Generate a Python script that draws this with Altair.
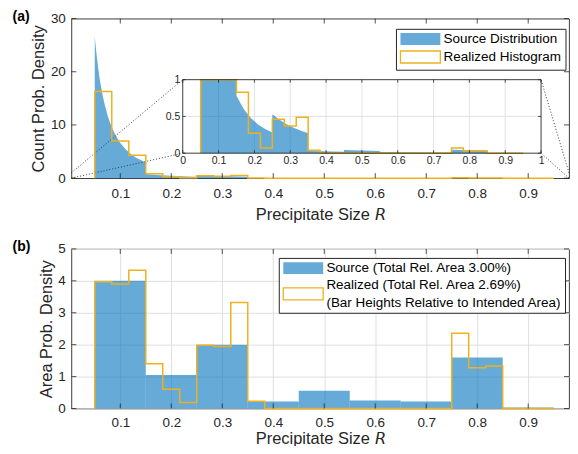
import altair as alt
import pandas as pd

# ---------------- values ----------------
# (a) source count-probability density curve (segment ends repeated at bin edges)
src_r = [0.05, 0.0525, 0.055, 0.0575, 0.06, 0.065, 0.07, 0.075, 0.08, 0.085, 0.09,
         0.10, 0.11, 0.12, 0.13, 0.14, 0.15,
         0.15, 0.17, 0.19, 0.21, 0.23, 0.25,
         0.25, 0.27, 0.29, 0.31, 0.33, 0.35,
         0.35, 0.45, 0.45, 0.55, 0.55, 0.65, 0.65, 0.75, 0.75, 0.85, 0.85, 0.95]
src_count = [26.6, 24.1, 22.0, 20.1, 18.4, 15.7, 13.6, 11.8, 10.4, 9.2, 8.2,
             6.6, 5.5, 4.6, 3.9, 3.4, 2.95,
             0.78, 0.60, 0.48, 0.39, 0.33, 0.28,
             0.53, 0.455, 0.395, 0.345, 0.305, 0.27,
             0.030, 0.018, 0.045, 0.030, 0.014, 0.010, 0.009, 0.0065, 0.047, 0.037, 0.0007, 0.0006]

# realized histogram bin edges (28) and heights (27)
bin_edges = [0.05, 0.0833, 0.1167, 0.15, 0.1833, 0.2167, 0.25, 0.2833, 0.3167, 0.35,
             0.3833, 0.4167, 0.45, 0.4833, 0.5167, 0.55, 0.5833, 0.6167, 0.65, 0.6833,
             0.7167, 0.75, 0.7833, 0.8167, 0.85, 0.8833, 0.9167, 0.95]
real_count = [16.3, 7.0, 4.3, 0.83, 0.27, 0.07, 0.46, 0.37, 0.49, 0.04,
              0, 0, 0, 0, 0, 0, 0, 0, 0, 0,
              0, 0.07, 0.03, 0.03, 0, 0, 0]
real_area = [3.97, 3.9, 4.33, 1.4, 0.6, 0.19, 1.98, 1.94, 3.32, 0.23,
             0, 0, 0, 0, 0, 0, 0, 0, 0, 0,
             0, 2.36, 1.28, 1.33, 0, 0, 0]

# (b) source area bars
src_edges = [0.05, 0.15, 0.25, 0.35, 0.45, 0.55, 0.65, 0.75, 0.85, 0.95]
src_area = [4.0, 1.05, 2.0, 0.22, 0.56, 0.25, 0.22, 1.6, 0.035]

a_names = ["Source Distribution", "Realized Histogram"]
b_names = ["Source (Total Rel. Area 3.00%)", "Realized (Total Rel. Area 2.69%)"]
b_note = "(Bar Heights Relative to Intended Area)"
panel_tags = ["(a)", "(b)"]

a_xticks = [0.1, 0.2, 0.3, 0.4, 0.5, 0.6, 0.7, 0.8, 0.9]
a_yticks = [0, 10, 20, 30]
b_yticks = [0, 1, 2, 3, 4, 5]
inset_xticks = [0, 0.1, 0.2, 0.3, 0.4, 0.5, 0.6, 0.7, 0.8, 0.9, 1]
inset_yticks = [0, 0.5, 1]
zoom_box = [0, 1, 0, 1]          # region of (a) magnified by the inset
inset_place = [0.2225, 0.9252, 4.69, 18.51]   # inset position in (a) data units

# ---------------- layout / style ----------------
W, H = 499, 160
XDOM = [0.004, 0.98]
A_YDOM = [0, 30]
B_YDOM = [0, 5]
BLUE = "rgba(0,114,189,0.6)"
ORANGE = "#EDB120"
AX = "#262626"
GRID = "#DFDFDF"
FONT = "Liberation Sans"
XTITLE = "Precipitate Size \U0001D619"
LINE_H = 17.5
SYM_C = "M-4,-1.2H4V1.2H-4Z"          # 40x12 px legend swatch
SYM_LOW = "M-4,0.55H4V2.95H-4Z"       # same swatch, centred on a two-line label


def px(x):
    return (x - XDOM[0]) / (XDOM[1] - XDOM[0]) * W


def py(y):
    return H - (y - A_YDOM[0]) / (A_YDOM[1] - A_YDOM[0]) * H


def stairs(edges, vals, name):
    xs = [edges[0]] + list(edges[:-1]) + [edges[-1], edges[-1]]
    ys = [0] + list(vals) + [vals[-1], 0]
    return pd.DataFrame({"r": xs, "v": ys, "i": list(range(len(xs))), "series": name})


def tick_layers(xv, yv, xs, ys, xd, yd, L, sw=0.8):
    rx = pd.DataFrame({"t": xv})
    ry = pd.DataFrame({"t": yv})
    m = dict(color=AX, strokeWidth=sw)
    bottom = alt.Chart(rx).mark_rule(y2Offset=-L, **m).encode(
        x=alt.X("t:Q", scale=xs), y=alt.YDatum(yd[0], scale=ys), y2=alt.Y2Datum(yd[0]))
    top = alt.Chart(rx).mark_rule(y2Offset=L, **m).encode(
        x=alt.X("t:Q", scale=xs), y=alt.YDatum(yd[1], scale=ys), y2=alt.Y2Datum(yd[1]))
    left = alt.Chart(ry).mark_rule(x2Offset=L, **m).encode(
        y=alt.Y("t:Q", scale=ys), x=alt.XDatum(xd[0], scale=xs), x2=alt.X2Datum(xd[0]))
    right = alt.Chart(ry).mark_rule(x2Offset=-L, **m).encode(
        y=alt.Y("t:Q", scale=ys), x=alt.XDatum(xd[1], scale=xs), x2=alt.X2Datum(xd[1]))
    return [bottom, top, left, right]


def tag(label):
    return alt.Chart(pd.DataFrame({"tag": [label]})).mark_text(
        align="left", baseline="middle", fontSize=14, fontWeight="bold", color="black",
        x=-59, y=-2).encode(text="tag:N")


def legend(lx, ly, expr=None, shape=True):
    kw = dict(title=None, orient="none", legendX=lx, legendY=ly,
              symbolSize=100, symbolStrokeWidth=1.3, symbolOffset=14.25, symbolOpacity=1,
              labelFontSize=13.5, labelLimit=500, labelOffset=16.5, labelColor="black",
              padding=3.5, rowPadding=0, strokeColor=AX, fillColor="white")
    if shape:
        kw["symbolType"] = SYM_C
    if expr:
        kw["labelExpr"] = expr
    return alt.Legend(**kw)


def xaxis(grid, lp, tp):
    return alt.Axis(values=a_xticks, tickCount=len(a_xticks), format=".1f", orient="bottom",
                    ticks=False, domain=False, grid=grid, gridColor=GRID, labelPadding=lp,
                    title=XTITLE, titlePadding=tp, labelFlush=False, labelOverlap=False,
                    titleFontSize=16.5)


def yaxis(vals, title, grid):
    return alt.Axis(values=vals, tickCount=len(vals), format="d", orient="left", ticks=False,
                    domain=False, grid=grid, gridColor=GRID, labelPadding=6, title=title,
                    titlePadding=3.5, labelOverlap=False, titleFontSize=16.5)


# ---------------- panel (a) ----------------
xs_a = alt.Scale(domain=XDOM, nice=False, zero=False, clamp=True)
ys_a = alt.Scale(domain=A_YDOM, nice=False, zero=False)
fill_a = alt.Scale(domain=a_names, range=[BLUE, "transparent"])
stroke_a = alt.Scale(domain=a_names, range=["transparent", ORANGE])

src_df = pd.DataFrame({"r": src_r, "v": src_count, "series": a_names[0]})
cnt_df = stairs(bin_edges, real_count, a_names[1])

a_area = alt.Chart(src_df).mark_area(interpolate="linear").encode(
    x=alt.X("r:Q", scale=xs_a, axis=xaxis(False, 8.5, 6.5)),
    y=alt.Y("v:Q", scale=ys_a, axis=yaxis(a_yticks, "Count Prob. Density", False)),
    y2=alt.Y2Datum(0),
    fill=alt.Fill("series:N", scale=fill_a, legend=legend(325.5, 10.3)),
)
a_step = alt.Chart(cnt_df).mark_line(interpolate="step-after", strokeWidth=1.5).encode(
    x=alt.X("r:Q", scale=xs_a),
    y=alt.Y("v:Q", scale=ys_a),
    order=alt.Order("i:Q"),
    stroke=alt.Stroke("series:N", scale=stroke_a, legend=legend(325.5, 10.3)),
)
x0, x1, y0, y1 = inset_place
conn_df = pd.DataFrame({
    "x": [zoom_box[0], zoom_box[0], zoom_box[1], zoom_box[1]],
    "y": [zoom_box[2], zoom_box[3], zoom_box[2], zoom_box[3]],
    "x2": [x0, x0, x1, x1],
    "y2": [y0, y1, y0, y1],
})
a_conn = alt.Chart(conn_df).mark_rule(color=AX, strokeWidth=0.9, strokeDash=[1, 2]).encode(
    x=alt.X("x:Q", scale=xs_a), y=alt.Y("y:Q", scale=ys_a), x2="x2:Q", y2="y2:Q")

main_a = alt.layer(a_area, a_conn, a_step,
                   *tick_layers(a_xticks, a_yticks, xs_a, ys_a, XDOM, A_YDOM, 5),
                   tag(panel_tags[0]))

# inset
xs_i = alt.Scale(domain=zoom_box[:2], range=[px(x0), px(x1)], nice=False, zero=False)
ys_i = alt.Scale(domain=zoom_box[2:], range=[py(y0), py(y1)], nice=False, zero=False,
                 clamp=True)
box_df = pd.DataFrame({"x": [zoom_box[0]], "x2": [zoom_box[1]],
                       "y": [zoom_box[2]], "y2": [zoom_box[3]]})
i_bg = alt.Chart(box_df).mark_rect(fill="white").encode(
    x=alt.X("x:Q", scale=xs_i,
            axis=alt.Axis(values=inset_xticks, tickCount=len(inset_xticks), format=".1~f",
                          orient="bottom", offset=-(H - py(y0)), ticks=False, domain=False,
                          grid=False, labelFontSize=10.5, labelPadding=2.5,
                          labelFlush=False, labelOverlap=False, title=None)),
    y=alt.Y("y:Q", scale=ys_i,
            axis=alt.Axis(values=inset_yticks, tickCount=len(inset_yticks), format=".1~f",
                          orient="left", offset=-px(x0), ticks=False, domain=False,
                          grid=False, labelFontSize=10.5, labelPadding=3,
                          labelFlush=False, labelOverlap=False, title=None)),
    x2="x2:Q", y2="y2:Q")
gx_df = pd.DataFrame({"t": inset_xticks[1:-1]})
gy_df = pd.DataFrame({"t": inset_yticks[1:-1]})
i_gx = alt.Chart(gx_df).mark_rule(color=GRID, strokeWidth=0.9).encode(
    x=alt.X("t:Q", scale=xs_i),
    y=alt.YDatum(zoom_box[2], scale=ys_i), y2=alt.Y2Datum(zoom_box[3]))
i_gy = alt.Chart(gy_df).mark_rule(color=GRID, strokeWidth=0.9).encode(
    y=alt.Y("t:Q", scale=ys_i),
    x=alt.XDatum(zoom_box[0], scale=xs_i), x2=alt.X2Datum(zoom_box[1]))
i_area = alt.Chart(src_df).mark_area(interpolate="linear", fill=BLUE).encode(
    x=alt.X("r:Q", scale=xs_i),
    y=alt.Y("v:Q", scale=ys_i),
    y2=alt.Y2Datum(0))
i_step = alt.Chart(cnt_df).mark_line(interpolate="step-after", strokeWidth=1.5,
                                     color=ORANGE).encode(
    x=alt.X("r:Q", scale=xs_i),
    y=alt.Y("v:Q", scale=ys_i),
    order=alt.Order("i:Q"))
i_border = alt.Chart(box_df).mark_rect(fill=None, stroke=AX, strokeWidth=0.9).encode(
    x=alt.X("x:Q", scale=xs_i), y=alt.Y("y:Q", scale=ys_i), x2="x2:Q", y2="y2:Q")
inset = alt.layer(i_bg, i_gx, i_gy, i_area, i_step, i_border,
                  *tick_layers(inset_xticks, inset_yticks, xs_i, ys_i,
                               zoom_box[:2], zoom_box[2:], 3))

panel_a = alt.layer(main_a, inset).resolve_scale(x="independent", y="independent").properties(
    width=W, height=H)

# ---------------- panel (b) ----------------
xs_b = alt.Scale(domain=XDOM, nice=False, zero=False)
ys_b = alt.Scale(domain=B_YDOM, nice=False, zero=False)
fill_b = alt.Scale(domain=b_names, range=[BLUE, "transparent"])
stroke_b = alt.Scale(domain=b_names, range=["transparent", ORANGE])
shape_b = alt.Scale(domain=b_names, range=[SYM_C, SYM_LOW])
expr_b = f"datum.label == '{b_names[1]}' ? ['{b_names[1]}', '{b_note}'] : datum.label"

bar_df = pd.DataFrame({"x0": src_edges[:-1], "x1": src_edges[1:], "v": src_area,
                       "series": b_names[0]})
area_df = stairs(bin_edges, real_area, b_names[1])

b_bars = alt.Chart(bar_df).mark_rect().encode(
    x=alt.X("x0:Q", scale=xs_b, axis=xaxis(True, 7, 2)),
    x2="x1:Q",
    y=alt.Y("v:Q", scale=ys_b, axis=yaxis(b_yticks, "Area Prob. Density", True)),
    y2=alt.Y2Datum(0),
    fill=alt.Fill("series:N", scale=fill_b, legend=legend(208, 9, expr_b, False)),
)
b_step = alt.Chart(area_df).mark_line(interpolate="step-after", strokeWidth=1.5).encode(
    x=alt.X("r:Q", scale=xs_b),
    y=alt.Y("v:Q", scale=ys_b),
    order=alt.Order("i:Q"),
    stroke=alt.Stroke("series:N", scale=stroke_b, legend=legend(208, 9, expr_b, False)),
)
b_keys = alt.Chart(bar_df).mark_point(opacity=0).encode(
    x=alt.X("x0:Q", scale=xs_b),
    y=alt.Y("v:Q", scale=ys_b),
    shape=alt.Shape("series:N", scale=shape_b, legend=legend(208, 9, expr_b, False)),
)
panel_b = alt.layer(b_bars, b_step, b_keys,
                    *tick_layers(a_xticks, b_yticks, xs_b, ys_b, XDOM, B_YDOM, 5),
                    tag(panel_tags[1])).properties(width=W, height=H)

chart = alt.vconcat(panel_a, panel_b, spacing=15).resolve_scale(
    fill="independent", stroke="independent", shape="independent").properties(
    padding={"left": 3.5, "top": 0, "right": 0, "bottom": -3}
).configure(
    font=FONT, style={"guide-label": {"lineHeight": LINE_H}}
).configure_view(stroke=AX, strokeWidth=0.9).configure_axis(
    labelFont=FONT, labelFontSize=13.5, labelColor=AX, titleFont=FONT,
    titleFontWeight="normal", titleColor=AX
).configure_legend(labelFont=FONT)

chart.save("out.html", embed_options={"renderer": "svg", "actions": False})
